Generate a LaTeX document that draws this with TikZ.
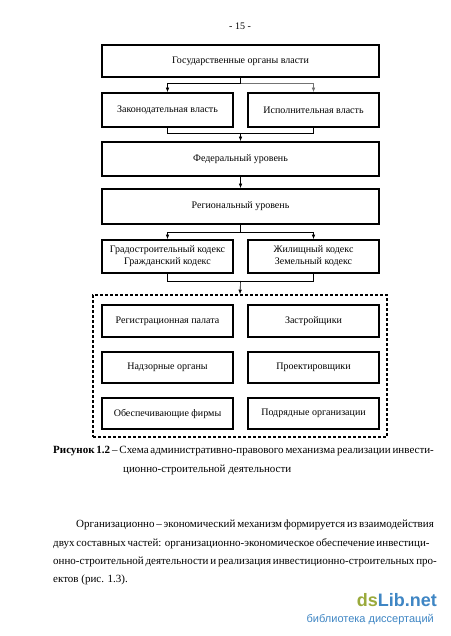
\documentclass[tikz,border=0pt]{standalone}
\usepackage{fontspec}
\setmainfont{Liberation Serif}
\newfontfamily\wmfont{Liberation Sans}
\usetikzlibrary{arrows.meta}
\definecolor{wmgreen}{HTML}{9AAA3C}
\definecolor{wmblue}{HTML}{3F86C4}
\begin{document}
\begin{tikzpicture}[x=1pt,y=-1pt,
  box/.style={draw, line width=1.6pt, inner sep=0pt, align=center,
    font=\fontsize{10}{12}\selectfont},
  colw/.style={minimum width=131pt},
  fullw/.style={minimum width=277pt},
  arr/.style={line width=0.6pt, -{Latex[length=4.5pt,width=3.5pt]}},
  ln/.style={line width=0.6pt},
  txt/.style={anchor=base west, inner sep=0pt, font=\fontsize{11}{13}\selectfont}]
\useasboundingbox (0,0) rectangle (450,636);
\fill[white] (0,0) rectangle (450,636);

\node[anchor=base, inner sep=0pt, font=\fontsize{10}{12}\selectfont] (pg) at (240,30) {- 15 -};

% boxes
\node[box, fullw, minimum height=32pt] (b1) at (240.5,61) {Государственные органы власти};
\node[box, colw, minimum height=34pt] (b2) at (167.5,110) {Законодательная власть};
\node[box, colw, minimum height=34pt] (b3) at (313.5,110) {Исполнительная власть};
\node[box, fullw, minimum height=34pt] (b4) at (240.5,159) {Федеральный уровень};
\node[box, fullw, minimum height=35pt] (b5) at (240.5,206.5) {Региональный уровень};
\node[box, colw, minimum height=33pt] (b6) at (167.5,256.5) {Градостроительный кодекс\\Гражданский кодекс};
\node[box, colw, minimum height=33pt] (b7) at (313.5,256.5) {Жилищный кодекс\\Земельный кодекс};

\node[draw, dashed, dash pattern=on 3pt off 2pt, line width=1.6pt, inner sep=0pt,
  minimum width=294pt, minimum height=142pt] (grp) at (240,366) {};

\node[box, colw, minimum height=32pt] (c1) at (167.5,321) {Регистрационная палата};
\node[box, colw, minimum height=32pt] (c2) at (313.5,321) {Застройщики};
\node[box, colw, minimum height=31pt] (c3) at (167.5,367.5) {Надзорные органы};
\node[box, colw, minimum height=31pt] (c4) at (313.5,367.5) {Проектировщики};
\node[box, colw, minimum height=31pt] (c5) at (167.5,413.5) {Обеспечивающие фирмы};
\node[box, colw, minimum height=31pt] (c6) at (313.5,413.5) {Подрядные организации};

% connectors
\coordinate (j1) at (240.5,83);
\draw[ln] (b1.south) -- (j1);
\draw[arr] (j1) -| (b2.north);
\draw[arr, draw=black!55] (j1) -| (b3.north);

\coordinate (j2) at (240.5,133);
\draw[ln] (b2.south) |- (j2);
\draw[ln] (b3.south) |- (j2);
\draw[arr] (j2) -- (b4.north);

\draw[arr] (b4.south) -- (b5.north);

\coordinate (j3) at (240.5,232);
\draw[ln] (b5.south) -- (j3);
\draw[arr] (j3) -| (b6.north);
\draw[arr] (j3) -| (b7.north);

\coordinate (j4) at (240.5,281);
\draw[ln] (b6.south) |- (j4);
\draw[ln] (b7.south) |- (j4);
\draw[arr] (j4) -- (grp.north);

% caption
\node[txt] (cap1) at (53,453) {\makebox[379pt][s]{\textbf{Рисунок 1.2} – Схема административно-правового механизма реализации инвести-}};
\node[txt] (cap2) at (123,472) {ционно-строительной деятельности};

% paragraph
\node[txt] (p1) at (76,527) {\makebox[353pt][s]{Организационно – экономический механизм формируется из взаимодействия}};
\node[txt] (p2) at (53,546) {\makebox[376pt][s]{двух составных частей: организационно-экономическое обеспечение инвестици-}};
\node[txt] (p3) at (53,564) {\makebox[376pt][s]{онно-строительной деятельности и реализация инвестиционно-строительных про-}};
\node[txt] (p4) at (53,582) {ектов (рис. 1.3).};

% watermark
\node[anchor=base east, inner sep=0pt, font=\wmfont\bfseries\fontsize{18}{18}\selectfont] (wm1) at (437,606) {\textcolor{wmgreen}{ds}\textcolor{wmblue}{Lib.net}};
\node[anchor=base east, inner sep=0pt, font=\wmfont\fontsize{11}{13}\selectfont, text=wmblue] (wm2) at (434,622) {библиотека диссертаций};
\end{tikzpicture}
\end{document}
